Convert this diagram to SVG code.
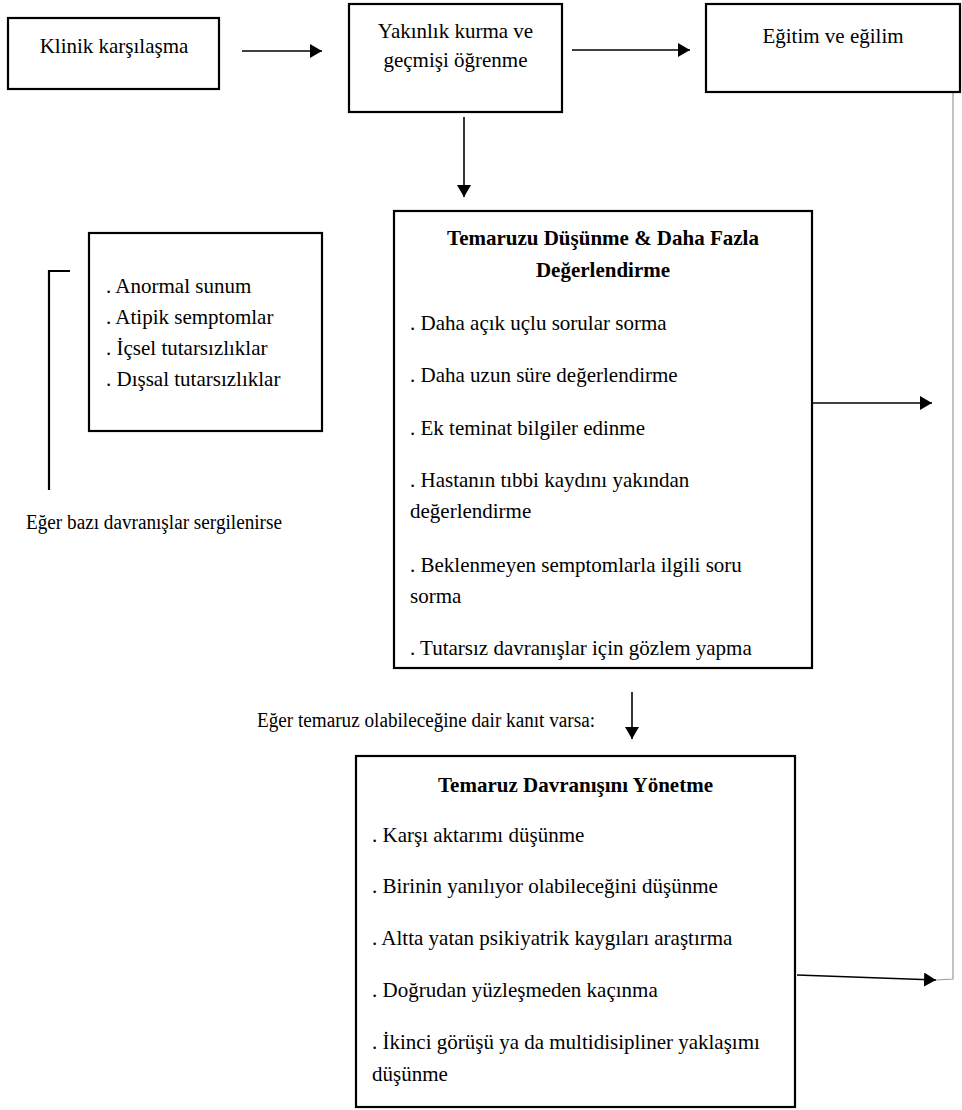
<svg xmlns="http://www.w3.org/2000/svg" width="962" height="1110" viewBox="0 0 962 1110">
<style>
  .box { fill: #fff; stroke: #000; stroke-width: 2.2; }
  text { font-family: Liberation Serif, serif; fill: #000; }
  .t { font-size: 21px; }
  .c { text-anchor: middle; }
  .b { font-weight: bold; }
  .note { font-size: 20px; }
  .conn { stroke: #000; stroke-width: 1.6; fill: none; }
  .grey { stroke: #9a9a9a; stroke-width: 1.2; fill: none; }
</style>
<defs>
  <marker id="ah" viewBox="0 0 12 14" markerWidth="12" markerHeight="14" refX="12" refY="7" orient="auto" markerUnits="userSpaceOnUse">
    <path d="M0,0 L12,7 L0,14 z" fill="#000"/>
  </marker>
</defs>
<rect width="962" height="1110" fill="#fff"/>

<g id="connectors">
  <line class="conn" x1="242" y1="51" x2="322" y2="51" marker-end="url(#ah)"/>
  <line class="conn" x1="572" y1="50" x2="690" y2="50" marker-end="url(#ah)"/>
  <line class="conn" x1="464" y1="117" x2="464" y2="197" marker-end="url(#ah)"/>
  <line class="conn" x1="812" y1="403" x2="932" y2="403" marker-end="url(#ah)"/>
  <line class="conn" x1="632" y1="692" x2="632" y2="739" marker-end="url(#ah)"/>
  <line class="conn" x1="797" y1="975" x2="936" y2="980" marker-end="url(#ah)"/>
  <polyline class="grey" points="953,92 953,979 936,980"/>
  <polyline class="conn" style="stroke-width:2.2" points="70,271 49,271 49,490"/>
</g>

<g id="node-klinik" font-family="Liberation Serif">
  <rect class="box" x="8" y="18" width="211" height="71"/>
  <text class="t c" x="114" y="53" font-family="Liberation Serif">Klinik karşılaşma</text>
</g>

<g id="node-yakinlik" font-family="Liberation Serif">
  <rect class="box" x="349" y="4" width="213" height="108"/>
  <text class="t c" x="455.5" y="38" font-family="Liberation Serif">Yakınlık kurma ve</text>
  <text class="t c" x="455.5" y="67" font-family="Liberation Serif">geçmişi öğrenme</text>
</g>

<g id="node-egitim" font-family="Liberation Serif">
  <rect class="box" x="706" y="4" width="254" height="88"/>
  <text class="t c" x="833" y="43" font-family="Liberation Serif">Eğitim ve eğilim</text>
</g>

<g id="node-belirtiler" font-family="Liberation Serif">
  <rect class="box" x="89" y="233" width="233" height="198"/>
  <text class="t" x="106" y="293" font-family="Liberation Serif">. Anormal sunum</text>
  <text class="t" x="106" y="324" font-family="Liberation Serif">. Atipik semptomlar</text>
  <text class="t" x="106" y="355" font-family="Liberation Serif">. İçsel tutarsızlıklar</text>
  <text class="t" x="106" y="386" font-family="Liberation Serif">. Dışsal tutarsızlıklar</text>
</g>

<g id="label-davranislar" font-family="Liberation Serif">
  <text class="note" x="26" y="529" font-family="Liberation Serif" textLength="256" lengthAdjust="spacingAndGlyphs">Eğer bazı davranışlar sergilenirse</text>
</g>

<g id="node-temaruzu-dusunme" font-family="Liberation Serif">
  <rect class="box" x="394" y="211" width="418" height="457"/>
  <text class="t c b" x="603" y="245" font-family="Liberation Serif">Temaruzu Düşünme &amp; Daha Fazla</text>
  <text class="t c b" x="603" y="277" font-family="Liberation Serif">Değerlendirme</text>
  <text class="t" x="410" y="330" font-family="Liberation Serif">. Daha açık uçlu sorular sorma</text>
  <text class="t" x="410" y="382" font-family="Liberation Serif">. Daha uzun süre değerlendirme</text>
  <text class="t" x="410" y="435" font-family="Liberation Serif">. Ek teminat bilgiler edinme</text>
  <text class="t" x="410" y="487" font-family="Liberation Serif">. Hastanın tıbbi kaydını yakından</text>
  <text class="t" x="410" y="518" font-family="Liberation Serif">değerlendirme</text>
  <text class="t" x="410" y="572" font-family="Liberation Serif">. Beklenmeyen semptomlarla ilgili soru</text>
  <text class="t" x="410" y="603" font-family="Liberation Serif">sorma</text>
  <text class="t" x="410" y="655" font-family="Liberation Serif">. Tutarsız davranışlar için gözlem yapma</text>
</g>

<g id="label-kanit" font-family="Liberation Serif">
  <text class="note" x="257" y="727" font-family="Liberation Serif" textLength="338" lengthAdjust="spacingAndGlyphs">Eğer temaruz olabileceğine dair kanıt varsa:</text>
</g>

<g id="node-temaruz-yonetme" font-family="Liberation Serif">
  <rect class="box" x="356" y="756" width="439" height="351"/>
  <text class="t c b" x="575.5" y="792" font-family="Liberation Serif">Temaruz Davranışını Yönetme</text>
  <text class="t" x="372" y="842" font-family="Liberation Serif">. Karşı aktarımı düşünme</text>
  <text class="t" x="372" y="893" font-family="Liberation Serif">. Birinin yanılıyor olabileceğini düşünme</text>
  <text class="t" x="372" y="945" font-family="Liberation Serif">. Altta yatan psikiyatrik kaygıları araştırma</text>
  <text class="t" x="372" y="997" font-family="Liberation Serif">. Doğrudan yüzleşmeden kaçınma</text>
  <text class="t" x="372" y="1049" font-family="Liberation Serif">. İkinci görüşü ya da multidisipliner yaklaşımı</text>
  <text class="t" x="372" y="1081" font-family="Liberation Serif">düşünme</text>
</g>
</svg>
